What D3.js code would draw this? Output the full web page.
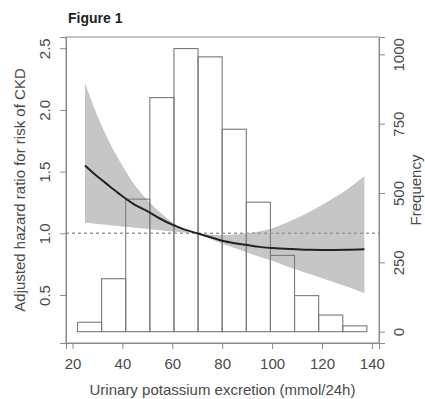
<!DOCTYPE html>
<html><head><meta charset="utf-8">
<script src="https://cdn.jsdelivr.net/npm/d3@7"></script>
<style>
html,body{margin:0;padding:0;background:#fff;}
svg{display:block;}
text{font-family:"Liberation Sans",Arial,sans-serif;}
</style></head>
<body>
<script>
// ---- data ----
const binEdges = [22, 31.67, 41.33, 51, 60.67, 70.33, 80, 89.67, 99.33, 109, 118.67, 128.33, 138];
const frequency = [34, 191, 478, 844, 1021, 991, 730, 467, 275, 130, 60, 21];

const potassium = [25, 30, 35, 40, 45, 50, 55, 60, 65, 70, 75, 80, 85, 90, 95, 100, 105, 110, 115, 120, 125, 130, 137];
const hazardRatio = [1.55, 1.46, 1.38, 1.30, 1.23, 1.18, 1.12, 1.07, 1.03, 1.00, 0.97, 0.94, 0.92, 0.905, 0.89, 0.88, 0.875, 0.87, 0.866, 0.865, 0.865, 0.866, 0.87];
const upperCI = [2.22, 1.95, 1.73, 1.55, 1.39, 1.27, 1.17, 1.09, 1.03, 1.00, 0.99, 0.985, 0.99, 1.0, 1.015, 1.04, 1.08, 1.125, 1.175, 1.23, 1.29, 1.355, 1.464];
const lowerCI = [1.085, 1.075, 1.065, 1.055, 1.045, 1.035, 1.025, 1.015, 1.007, 1.00, 0.955, 0.915, 0.88, 0.845, 0.81, 0.777, 0.74, 0.705, 0.67, 0.636, 0.602, 0.568, 0.514];

const xTicks = [20, 40, 60, 80, 100, 120, 140];
const hrTicks = [0.5, 1.0, 1.5, 2.0, 2.5];
const freqTicks = [0, 250, 500, 750, 1000];
const referenceHR = 1.0;

const titleText = "Figure 1";
const xTitle = "Urinary potassium excretion (mmol/24h)";
const yTitle = "Adjusted hazard ratio for risk of CKD";
const y2Title = "Frequency";

// ---- layout ----
const W = 425, H = 399;
const box = {l: 66, r: 379, t: 37, b: 343};
const axisCol = "#8a8a8a", textCol = "#4a4a4a";
const fs = 15;

const svg = d3.select("body").append("svg").attr("width", W).attr("height", H);

const x = d3.scaleLinear().domain([17.4, 142.85]).range([box.l, box.r]);
const y = d3.scaleLinear().domain([0.111, 2.591]).range([box.b, box.t]);
const yf = d3.scaleLinear().domain([-40.8, 1062.6]).range([box.b, box.t]);

// CI band
const band = potassium.map((k, i) => ({k, lo: lowerCI[i], hi: upperCI[i], hr: hazardRatio[i]}));
svg.append("path").datum(band)
  .attr("d", d3.area().x(d => x(d.k)).y0(d => y(d.lo)).y1(d => y(d.hi)).curve(d3.curveMonotoneX))
  .attr("fill", "#c6c6c6");

// histogram
const bins = frequency.map((f, i) => ({x0: binEdges[i], x1: binEdges[i + 1], f}));
svg.append("g").selectAll("rect").data(bins).join("rect")
  .attr("x", d => x(d.x0)).attr("width", d => x(d.x1) - x(d.x0))
  .attr("y", d => yf(d.f)).attr("height", d => yf(0) - yf(d.f))
  .attr("fill", "none").attr("stroke", "#7a7a7a").attr("stroke-width", 1.1);

// reference line
svg.append("line")
  .attr("x1", box.l).attr("x2", box.r)
  .attr("y1", y(referenceHR)).attr("y2", y(referenceHR))
  .attr("stroke", "#9a9a9a").attr("stroke-width", 1.5).attr("stroke-dasharray", "3,3");

// HR curve
svg.append("path").datum(band)
  .attr("d", d3.line().x(d => x(d.k)).y(d => y(d.hr)).curve(d3.curveMonotoneX))
  .attr("fill", "none").attr("stroke", "#222").attr("stroke-width", 2);

// box
svg.append("rect").attr("x", box.l).attr("y", box.t)
  .attr("width", box.r - box.l).attr("height", box.b - box.t)
  .attr("fill", "none").attr("stroke", axisCol).attr("stroke-width", 1);

function styleAxis(g) {
  g.selectAll("path.domain").attr("stroke", axisCol);
  g.selectAll(".tick line").attr("stroke", axisCol);
  g.selectAll(".tick text").attr("fill", textCol).attr("font-size", fs)
    .attr("font-family", '"Liberation Sans",Arial,sans-serif');
}

// bottom axis
const gx = svg.append("g").attr("transform", `translate(0,${box.b})`)
  .call(d3.axisBottom(x).tickValues(xTicks).tickFormat(d3.format("d")).tickSizeOuter(0).tickSize(6).tickPadding(9));
styleAxis(gx);

// left axis
const gy = svg.append("g").attr("transform", `translate(${box.l},0)`)
  .call(d3.axisLeft(y).tickValues(hrTicks).tickFormat(d3.format(".1f")).tickSizeOuter(0).tickSize(6));
styleAxis(gy);
gy.selectAll(".tick text").attr("transform", "rotate(-90)")
  .attr("x", 0).attr("y", -16).attr("dy", 0).attr("text-anchor", "middle");

// right axis
const gr = svg.append("g").attr("transform", `translate(${box.r},0)`)
  .call(d3.axisRight(yf).tickValues(freqTicks).tickFormat(d3.format("d")).tickSizeOuter(0).tickSize(6));
styleAxis(gr);
gr.selectAll(".tick text").attr("transform", "rotate(-90)")
  .attr("x", 0).attr("y", 25).attr("dy", 0).attr("text-anchor", "middle");

// titles
svg.append("text").attr("x", 68).attr("y", 23).text(titleText)
  .attr("font-size", 14).attr("font-weight", "bold").attr("fill", "#222");
svg.append("text").attr("x", (box.l + box.r) / 2).attr("y", 395)
  .attr("text-anchor", "middle").attr("font-size", fs).attr("fill", textCol).text(xTitle);
svg.append("text").attr("transform", `translate(25,${(box.t + box.b) / 2}) rotate(-90)`)
  .attr("text-anchor", "middle").attr("font-size", fs).attr("fill", textCol).text(yTitle);
svg.append("text").attr("transform", `translate(421,${(box.t + box.b) / 2}) rotate(-90)`)
  .attr("text-anchor", "middle").attr("font-size", fs).attr("fill", textCol).text(y2Title);
</script>
</body></html>
